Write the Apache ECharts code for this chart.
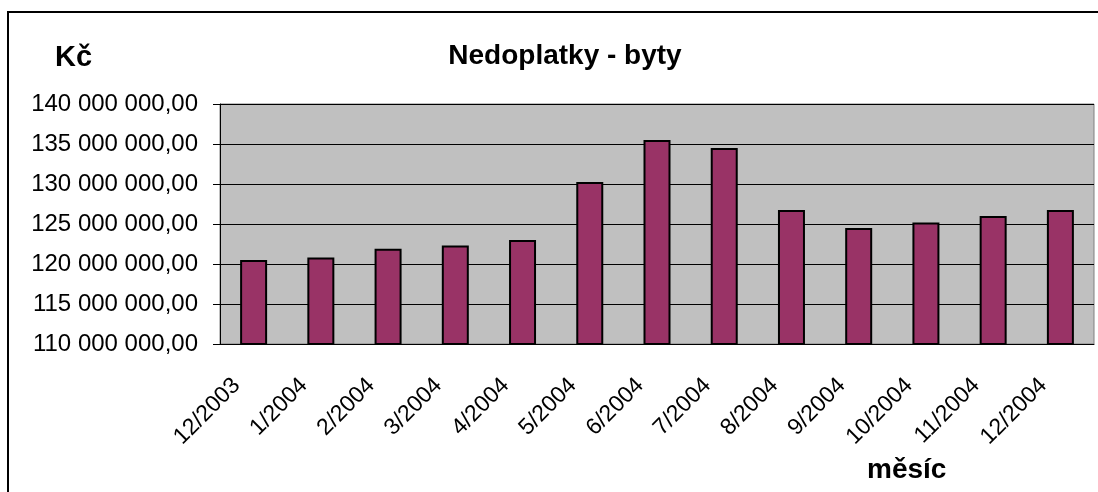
<!DOCTYPE html>
<html>
<head>
<meta charset="utf-8">
<script src="https://cdn.jsdelivr.net/npm/echarts@6/dist/echarts.min.js"></script>
<style>
  html, body { margin: 0; padding: 0; background: #fff; }
  #chart { width: 1098px; height: 492px; }
</style>
</head>
<body>
<div id="chart"></div>
<script>
const months = ["12/2003", "1/2004", "2/2004", "3/2004", "4/2004", "5/2004", "6/2004",
  "7/2004", "8/2004", "9/2004", "10/2004", "11/2004", "12/2004"];
const arrears = [120500000, 120800000, 121900000, 122300000, 123000000, 130250000, 135500000,
  134500000, 126750000, 124500000, 125200000, 126000000, 126750000];
const yMin = 110000000;
const yMax = 140000000;
const yStep = 5000000;

// 140000000 -> "140 000 000,00"
function czk(v) {
  return String(Math.round(v)).replace(/\B(?=(\d{3})+(?!\d))/g, " ") + ",00";
}

const chart = echarts.init(document.getElementById("chart"));
chart.setOption({
  animation: false,
  textStyle: { fontFamily: "Liberation Sans, Arial, sans-serif" },
  title: {
    text: "Nedoplatky - byty",
    left: 560,
    textAlign: "center",
    top: 37,
    textStyle: { fontSize: 28, fontWeight: "bold", color: "#000" }
  },
  graphic: [
    {
      type: "rect",
      shape: { x: 8, y: 12, width: 1100, height: 500 },
      style: { fill: null, stroke: "#000", lineWidth: 2 },
      z: -10
    },
    {
      type: "text",
      left: 55, top: 43,
      style: { text: "Kč", fontSize: 29, fontWeight: "bold", fill: "#000",
        fontFamily: "Liberation Sans, Arial, sans-serif" }
    },
    {
      type: "text",
      left: 867, top: 456,
      style: { text: "měsíc", fontSize: 28, fontWeight: "bold", fill: "#000",
        fontFamily: "Liberation Sans, Arial, sans-serif" }
    }
  ],
  grid: {
    left: 220, right: 4, top: 104, bottom: 148,
    show: true,
    backgroundColor: "#c0c0c0",
    borderColor: "#808080",
    borderWidth: 1
  },
  xAxis: {
    type: "category",
    data: months,
    axisLine: { lineStyle: { color: "#000", width: 1 } },
    axisTick: { length: 8, lineStyle: { color: "#000" } },
    axisLabel: {
      rotate: 45,
      margin: 21,
      padding: [0, 24, 0, 0],
      fontSize: 23,
      color: "#000",
      interval: 0
    }
  },
  yAxis: {
    type: "value",
    min: yMin,
    max: yMax,
    interval: yStep,
    axisLine: { show: true, lineStyle: { color: "#000", width: 1 } },
    axisTick: { show: true, length: 7, lineStyle: { color: "#000" } },
    splitLine: { lineStyle: { color: "#000", width: 1 } },
    axisLabel: {
      formatter: czk,
      fontSize: 24,
      color: "#000",
      margin: 22
    }
  },
  series: [{
    type: "bar",
    data: arrears,
    barWidth: 27,
    itemStyle: { color: "#993366", borderColor: "#000", borderWidth: 2 }
  }]
});
</script>
</body>
</html>
